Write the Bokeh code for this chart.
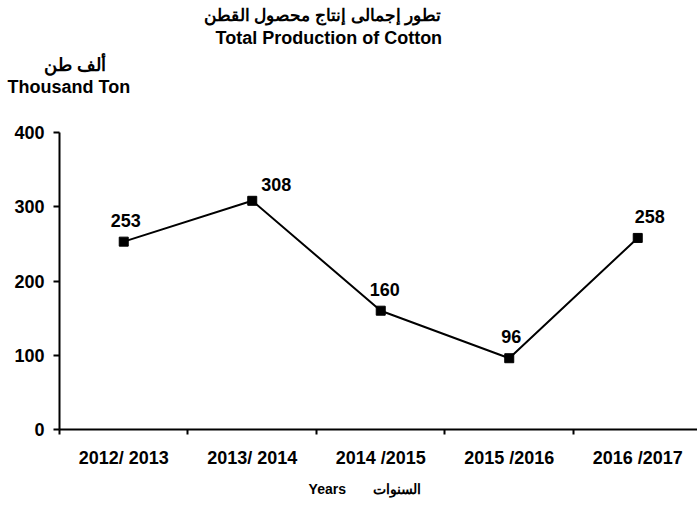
from bokeh.plotting import figure
from bokeh.models import Range1d, FixedTicker, Title, ColumnDataSource
from bokeh.core.properties import value
from bokeh.embed import file_html
from bokeh.resources import INLINE

# ---- data ----
seasons = ["2012/ 2013", "2013/ 2014", "2014 /2015", "2015 /2016", "2016 /2017"]
production = [253, 308, 160, 96, 258]
y_ticks = [0, 100, 200, 300, 400]

# label nudges (layout only)
label_dx = [2, 24, 4, 2, 12]
label_dy = [21, 16, 21, 22, 21]

FONT = "Liberation Sans"
NB = "\u00a0"

xs = [i + 0.5 for i in range(len(seasons))]
src = ColumnDataSource(dict(x=xs, y=production, txt=[str(v) for v in production],
                            dx=label_dx, dy=[-d for d in label_dy]))

p = figure(width=697, height=508, output_backend="svg", toolbar_location=None,
           x_range=Range1d(0, 4.965), y_range=Range1d(0, 400),
           min_border_left=59, min_border_right=0, min_border_top=132, min_border_bottom=79)
p.outline_line_color = None
p.xgrid.visible = False
p.ygrid.visible = False

p.line(x="x", y="y", source=src, line_color="black", line_width=2)
p.scatter(x="x", y="y", source=src, marker="square", size=9, fill_color="black", line_color="black")
p.text(x="x", y="y", text="txt", source=src, x_offset="dx", y_offset="dy",
       text_font=value(FONT), text_font_style="bold", text_font_size="18px",
       text_align="center", text_baseline="middle", text_color="black")

# x axis
xa = p.xaxis[0]
xa.ticker = FixedTicker(ticks=xs, minor_ticks=list(range(len(seasons) + 1)))
xa.major_label_overrides = {x: s for x, s in zip(xs, seasons)}
xa.major_tick_line_color = None
xa.major_tick_out = 0
xa.major_tick_in = 0
xa.minor_tick_line_color = "black"
xa.minor_tick_line_width = 2
xa.minor_tick_out = 5
xa.minor_tick_in = 0
xa.axis_line_width = 2
xa.axis_line_color = "black"
xa.major_label_text_font = FONT
xa.major_label_text_font_style = "bold"
xa.major_label_text_font_size = "18px"
xa.major_label_text_color = "black"
xa.major_label_standoff = 13
xa.axis_label = "Years" + NB * 7 + "السنوات" + NB * 7
xa.axis_label_text_font = FONT
xa.axis_label_text_font_style = "bold"
xa.axis_label_text_font_size = "14px"
xa.axis_label_text_color = "black"
xa.axis_label_standoff = 10

# y axis
ya = p.yaxis[0]
ya.ticker = FixedTicker(ticks=y_ticks, minor_ticks=[])
ya.major_tick_out = 6
ya.major_tick_in = 0
ya.major_tick_line_width = 2
ya.major_tick_line_color = "black"
ya.axis_line_width = 2
ya.axis_line_color = "black"
ya.major_label_text_font = FONT
ya.major_label_text_font_style = "bold"
ya.major_label_text_font_size = "18px"
ya.major_label_text_color = "black"
ya.major_label_standoff = 9

def add_title(text, offset, standoff, size="18px"):
    p.add_layout(Title(text=text, align="left", offset=offset, standoff=standoff,
                       vertical_align="middle",
                       text_font=FONT, text_font_style="bold", text_font_size=size,
                       text_color="black"), "above")

# first added sits closest to the frame
add_title(" ", 0, 36, "1px")
add_title("Thousand Ton", -52, -9)
add_title("ألف طن", -16, 9)
add_title("Total Production of Cotton", 156, 1)
add_title("تطور إجمالى إنتاج محصول القطن", 144, 1, "17px")

open("out.html", "w").write(file_html(p, INLINE))
